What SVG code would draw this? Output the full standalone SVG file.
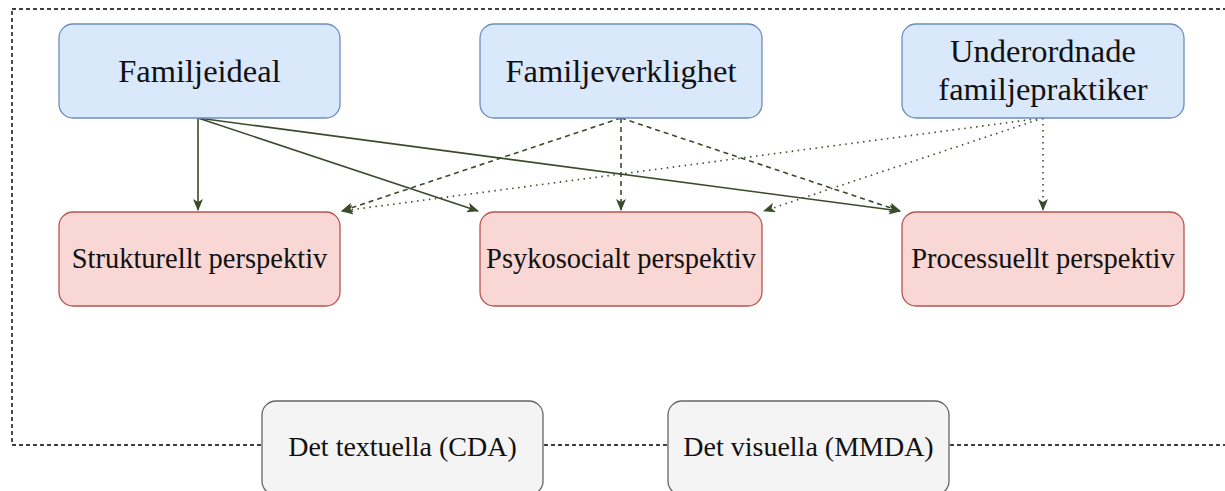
<svg xmlns="http://www.w3.org/2000/svg" width="1225" height="491" viewBox="0 0 1225 491">
<style>
.blue{fill:#dae8fc;stroke:#6c8ebf;stroke-width:1.3}
.red{fill:#f8d7d4;stroke:#b85450;stroke-width:1.3}
.grey{fill:#f4f4f4;stroke:#666666;stroke-width:1.3}
.t{font-family:"Liberation Serif","Times New Roman",serif;fill:#111;text-anchor:middle}
.big{font-size:32.5px}
.mid{font-size:28.5px}
.low{font-size:28px}
.e{fill:none;stroke:#3b4a2b;stroke-width:1.6}
.dash{stroke-dasharray:5 4}
.dot{stroke-dasharray:1.5 4.5}
</style>
<defs>
<marker id="ah" viewBox="0 0 12 10" refX="11" refY="5" markerWidth="12" markerHeight="10" markerUnits="userSpaceOnUse" orient="auto">
<path d="M0,0 L12,5 L0,10 L3,5 z" fill="#3b4a2b"/>
</marker>
</defs>
<rect x="12" y="9" width="1240" height="436" fill="none" stroke="#000" stroke-width="1.4" stroke-dasharray="4 3"/>
<g id="connectors">
<path class="e" d="M198,118 L198,210" marker-end="url(#ah)"/>
<path class="e" d="M198,118 L478,211" marker-end="url(#ah)"/>
<path class="e" d="M198,118 L900,211" marker-end="url(#ah)"/>
<path class="e dash" d="M621,118 L342,211" marker-end="url(#ah)"/>
<path class="e dash" d="M621,118 L621,210" marker-end="url(#ah)"/>
<path class="e dash" d="M621,118 L900,211" marker-end="url(#ah)"/>
<path class="e dot" d="M1043,118 L342,211" marker-end="url(#ah)"/>
<path class="e dot" d="M1043,118 L764,211" marker-end="url(#ah)"/>
<path class="e dot" d="M1043,118 L1043,210" marker-end="url(#ah)"/>
</g>
<g id="familjeideal">
<rect class="blue" x="59" y="24" width="281" height="94" rx="14"/>
<text class="t big" x="199.5" y="82">Familjeideal</text>
</g>
<g id="familjeverklighet">
<rect class="blue" x="480" y="24" width="282" height="94" rx="14"/>
<text class="t big" x="621" y="82">Familjeverklighet</text>
</g>
<g id="underordnade">
<rect class="blue" x="902" y="24" width="282" height="94" rx="14"/>
<text class="t big" x="1043" y="62">Underordnade</text>
<text class="t big" x="1043" y="100">familjepraktiker</text>
</g>
<g id="strukturellt">
<rect class="red" x="59" y="212" width="281" height="94" rx="14"/>
<text class="t mid" x="199.5" y="268">Strukturellt perspektiv</text>
</g>
<g id="psykosocialt">
<rect class="red" x="480" y="212" width="282" height="94" rx="14"/>
<text class="t mid" x="621" y="268">Psykosocialt perspektiv</text>
</g>
<g id="processuellt">
<rect class="red" x="902" y="212" width="282" height="94" rx="14"/>
<text class="t mid" x="1043" y="268">Processuellt perspektiv</text>
</g>
<g id="textuella">
<rect class="grey" x="262" y="401" width="281" height="94" rx="14"/>
<text class="t low" x="402.5" y="456">Det textuella (CDA)</text>
</g>
<g id="visuella">
<rect class="grey" x="668" y="401" width="281" height="94" rx="14"/>
<text class="t low" x="808.5" y="456">Det visuella (MMDA)</text>
</g>
</svg>
